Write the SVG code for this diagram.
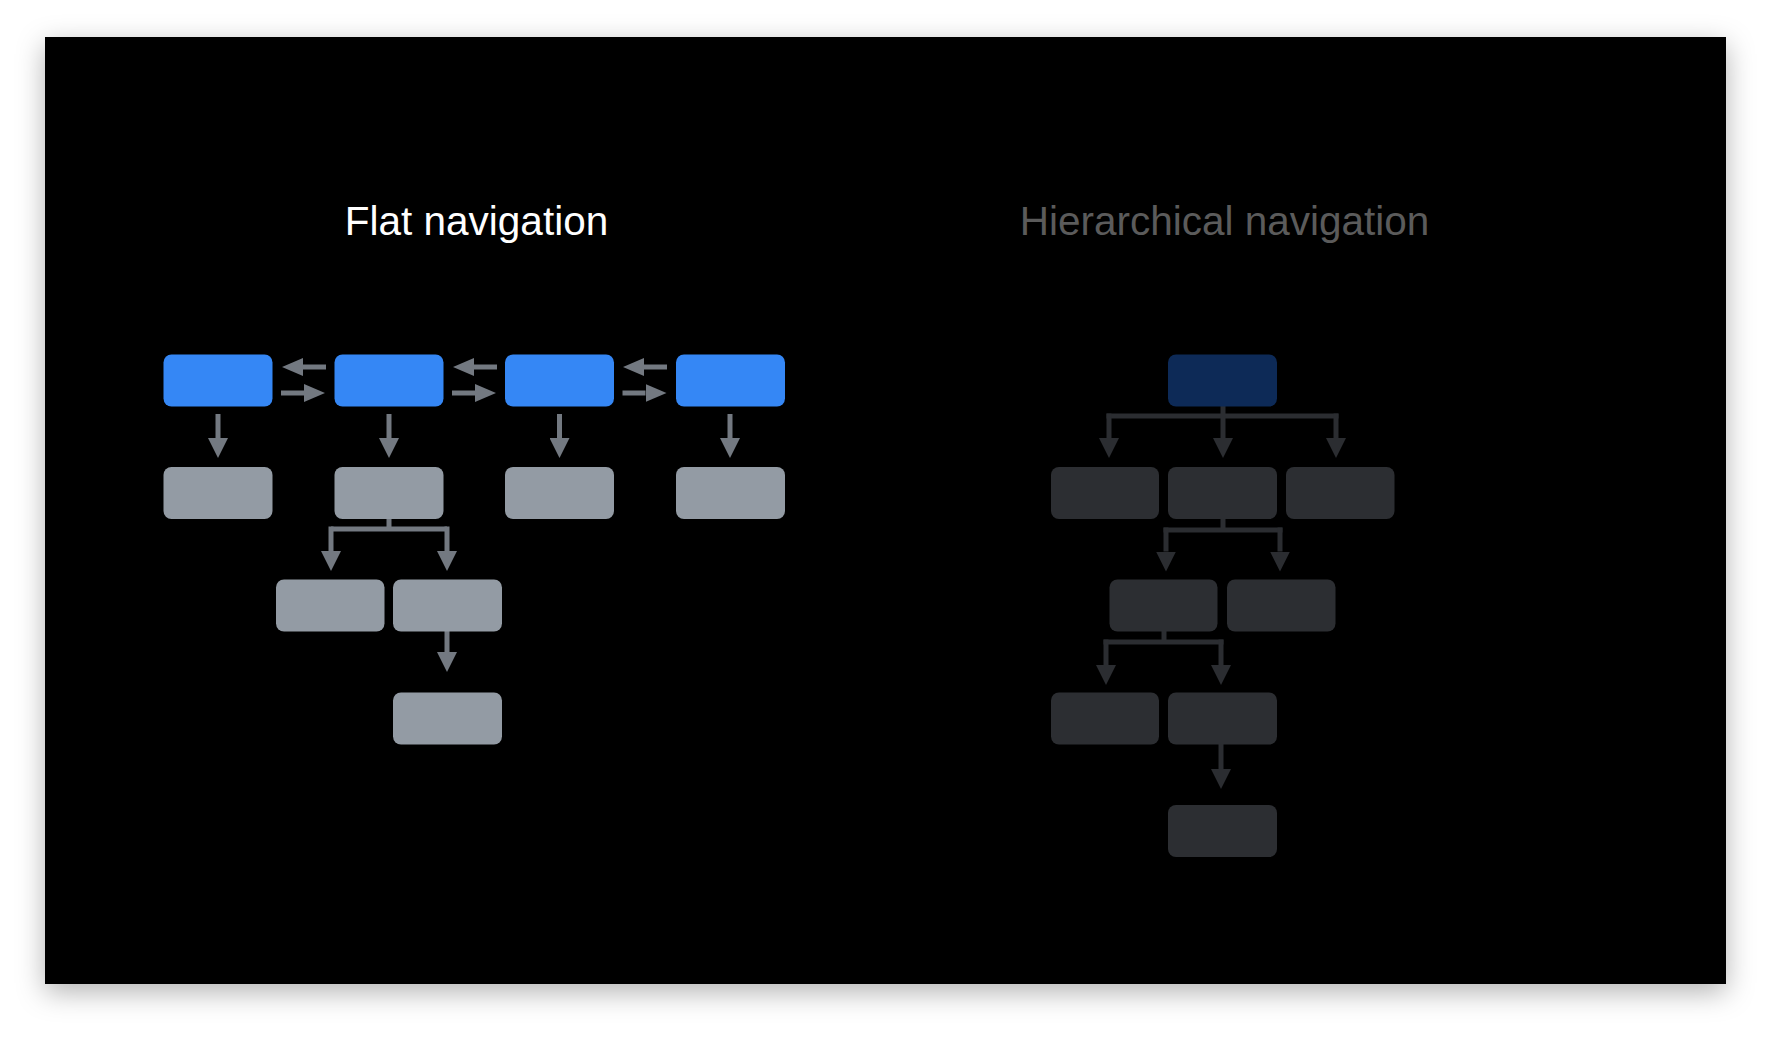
<svg xmlns="http://www.w3.org/2000/svg" width="1772" height="1038" viewBox="0 0 1772 1038">
  <defs>
    <filter id="shadow" x="-10%" y="-10%" width="120%" height="125%">
      <feDropShadow dx="0" dy="8" stdDeviation="14" flood-color="#000" flood-opacity="0.3"/>
    </filter>
    <marker id="headV" markerUnits="userSpaceOnUse" markerWidth="20" markerHeight="20" viewBox="0 0 20 20" refX="0" refY="10" orient="auto">
      <path d="M0,0 L20,10 L0,20 Z" fill="#737981"/>
    </marker>
    <marker id="headH" markerUnits="userSpaceOnUse" markerWidth="21" markerHeight="18" viewBox="0 0 21 18" refX="0" refY="9" orient="auto">
      <path d="M0,0 L21,9 L0,18 Z" fill="#737981"/>
    </marker>
    <marker id="headD" markerUnits="userSpaceOnUse" markerWidth="20" markerHeight="20" viewBox="0 0 20 20" refX="0" refY="10" orient="auto">
      <path d="M0,0 L20,10 L0,20 Z" fill="#2b2d31"/>
    </marker>
  </defs>
  <style>
    .title { font-family: "Liberation Sans", Arial, sans-serif; font-size: 40.5px; text-anchor: middle; }
    .blue { fill: #3587f5; }
    .gray { fill: #939ba4; }
    .dark { fill: #2c2e32; }
    .navy { fill: #0d2a57; }
    .fa { stroke: #737981; stroke-width: 5; fill: none; }
    .fv { stroke: #737981; stroke-width: 5; fill: none; marker-end: url(#headV); }
    .fh { stroke: #737981; stroke-width: 5; fill: none; marker-end: url(#headH); }
    .ha { stroke: #2b2d31; stroke-width: 5; fill: none; }
    .hv { stroke: #2b2d31; stroke-width: 5; fill: none; marker-end: url(#headD); }
  </style>

  <rect x="0" y="0" width="1772" height="1038" fill="#ffffff"/>
  <rect id="slide" x="45" y="37" width="1681" height="947" fill="#000000" filter="url(#shadow)"/>

  <text id="title-flat" class="title" x="476.5" y="235" fill="#ffffff">Flat navigation</text>
  <text id="title-hier" class="title" x="1224.5" y="235" fill="#5b5b5b">Hierarchical navigation</text>

  <g id="connectors">
    <line class="fh" x1="326" y1="367" x2="303" y2="367"/>
    <line class="fh" x1="281" y1="393" x2="304" y2="393"/>
    <line class="fh" x1="497" y1="367" x2="474" y2="367"/>
    <line class="fh" x1="452" y1="393" x2="475" y2="393"/>
    <line class="fh" x1="667" y1="367" x2="644" y2="367"/>
    <line class="fh" x1="622.5" y1="393" x2="645.5" y2="393"/>
    <line class="fv" x1="218" y1="414" x2="218" y2="438"/>
    <line class="fv" x1="389" y1="414" x2="389" y2="438"/>
    <line class="fv" x1="559.5" y1="414" x2="559.5" y2="438"/>
    <line class="fv" x1="730" y1="414" x2="730" y2="438"/>
    <path class="fa" d="M389,519 V529 M331,529 H447"/>
    <line class="fv" x1="331" y1="526.5" x2="331" y2="551"/>
    <line class="fv" x1="447" y1="526.5" x2="447" y2="551"/>
    <line class="fv" x1="447" y1="631" x2="447" y2="652"/>

    <path class="ha" d="M1223,406 V416 M1106.5,416 H1338.5"/>
    <line class="hv" x1="1109" y1="413.5" x2="1109" y2="438"/>
    <line class="hv" x1="1223" y1="416" x2="1223" y2="438"/>
    <line class="hv" x1="1336" y1="413.5" x2="1336" y2="438"/>
    <path class="ha" d="M1223,519 V530 M1163.5,530 H1282.5"/>
    <line class="hv" x1="1166" y1="527.5" x2="1166" y2="551.5"/>
    <line class="hv" x1="1280" y1="527.5" x2="1280" y2="551.5"/>
    <path class="ha" d="M1164,631 V642 M1103.5,642 H1223.5"/>
    <line class="hv" x1="1106" y1="639.5" x2="1106" y2="665"/>
    <line class="hv" x1="1221" y1="639.5" x2="1221" y2="665"/>
    <line class="hv" x1="1221" y1="744" x2="1221" y2="769"/>
  </g>

  <g id="flat-top-1"><rect class="blue" x="163.5" y="354.5" width="109" height="52" rx="8"/></g>
  <g id="flat-top-2"><rect class="blue" x="334.5" y="354.5" width="109" height="52" rx="8"/></g>
  <g id="flat-top-3"><rect class="blue" x="505" y="354.5" width="109" height="52" rx="8"/></g>
  <g id="flat-top-4"><rect class="blue" x="676" y="354.5" width="109" height="52" rx="8"/></g>
  <g id="flat-sub-1"><rect class="gray" x="163.5" y="467" width="109" height="52" rx="8"/></g>
  <g id="flat-sub-2"><rect class="gray" x="334.5" y="467" width="109" height="52" rx="8"/></g>
  <g id="flat-sub-3"><rect class="gray" x="505" y="467" width="109" height="52" rx="8"/></g>
  <g id="flat-sub-4"><rect class="gray" x="676" y="467" width="109" height="52" rx="8"/></g>
  <g id="flat-l3-1"><rect class="gray" x="276" y="579.5" width="108.5" height="52" rx="8"/></g>
  <g id="flat-l3-2"><rect class="gray" x="393" y="579.5" width="109" height="52" rx="8"/></g>
  <g id="flat-l4-1"><rect class="gray" x="393" y="692.5" width="109" height="52" rx="8"/></g>

  <g id="hier-root"><rect class="navy" x="1168" y="354.5" width="109" height="52" rx="8"/></g>
  <g id="hier-l2-1"><rect class="dark" x="1051" y="467" width="108" height="52" rx="8"/></g>
  <g id="hier-l2-2"><rect class="dark" x="1168" y="467" width="109" height="52" rx="8"/></g>
  <g id="hier-l2-3"><rect class="dark" x="1286" y="467" width="108.5" height="52" rx="8"/></g>
  <g id="hier-l3-1"><rect class="dark" x="1109.5" y="579.5" width="108" height="52" rx="8"/></g>
  <g id="hier-l3-2"><rect class="dark" x="1227" y="579.5" width="108.5" height="52" rx="8"/></g>
  <g id="hier-l4-1"><rect class="dark" x="1051" y="692.5" width="108" height="52" rx="8"/></g>
  <g id="hier-l4-2"><rect class="dark" x="1168" y="692.5" width="109" height="52" rx="8"/></g>
  <g id="hier-l5-1"><rect class="dark" x="1168" y="805" width="109" height="52" rx="8"/></g>
</svg>
